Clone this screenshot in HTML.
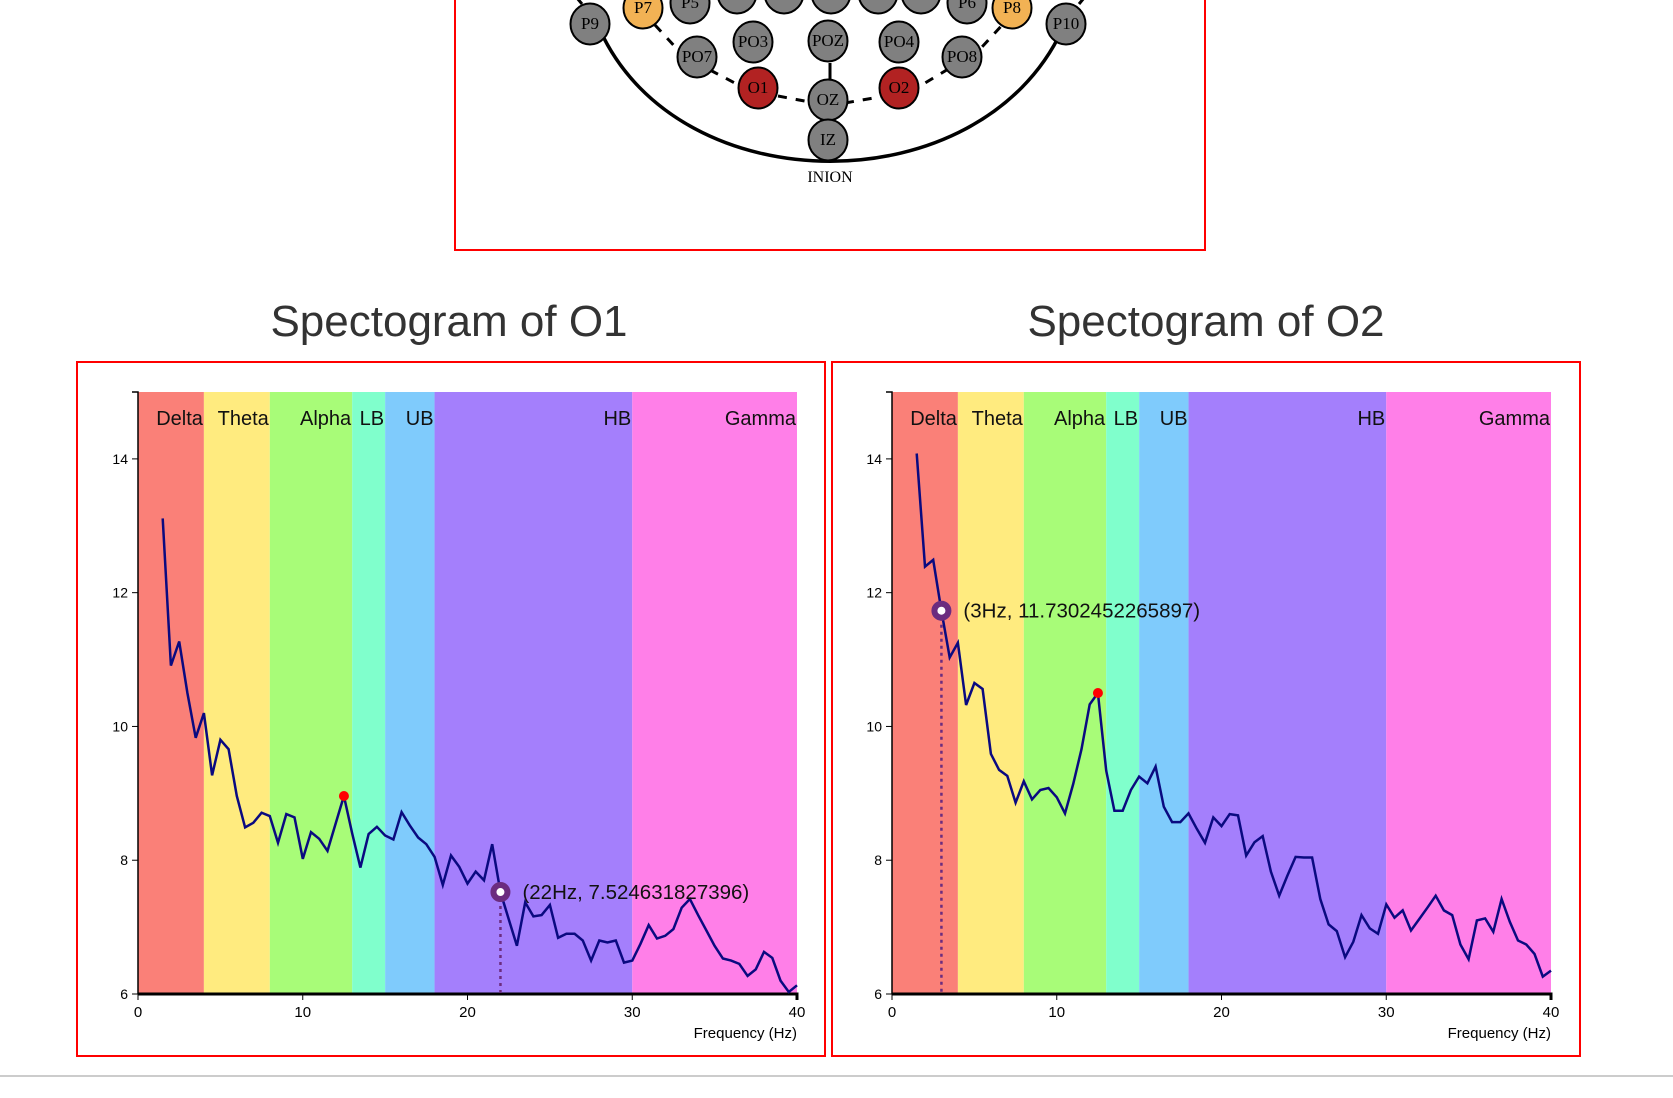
<!DOCTYPE html>
<html><head><meta charset="utf-8"><style>
html,body{margin:0;padding:0;background:#fff;width:1673px;height:1098px;overflow:hidden}
svg{display:block;font-family:"Liberation Sans",Arial,sans-serif}
</style></head><body>
<svg id="root" width="1673" height="1098" viewBox="0 0 1673 1098" xmlns="http://www.w3.org/2000/svg">
<g id="head">
<rect x="455" y="-10" width="750" height="260" fill="none" stroke="#f00" stroke-width="2"/>
<path d="M600 30 C680 205 980 205 1062 30" fill="none" stroke="#000" stroke-width="3.5"/>
<line x1="582" y1="4" x2="572" y2="-8" stroke="#000" stroke-width="3"/>
<line x1="1079" y1="4" x2="1089" y2="-8" stroke="#000" stroke-width="3"/>
<g stroke="#000" stroke-width="3" stroke-dasharray="9,9" fill="none">
<line x1="655" y1="25" x2="690" y2="63"/>
<line x1="710" y1="70" x2="752" y2="92"/>
<line x1="778" y1="96" x2="815" y2="103"/>
<line x1="845" y1="103" x2="885" y2="96"/>
<line x1="910" y1="92" x2="950" y2="68"/>
<line x1="970" y1="60" x2="1005" y2="22"/>
<line x1="830" y1="63" x2="830" y2="80" stroke-dasharray="none"/>
</g>
<g id="electrodes" stroke="#000" stroke-width="2" font-family="Liberation Serif,serif" font-size="17" text-anchor="middle"></g>
<text x="830" y="182" font-family="Liberation Serif,serif" font-size="16" text-anchor="middle">INION</text>
</g>
<text x="449" y="336" font-size="44" fill="#333" text-anchor="middle">Spectogram of O1</text>
<text x="1206" y="336" font-size="44" fill="#333" text-anchor="middle">Spectogram of O2</text>
<rect x="77" y="362" width="748" height="694" fill="none" stroke="#f00" stroke-width="2"/>
<rect x="832" y="362" width="748" height="694" fill="none" stroke="#f00" stroke-width="2"/>
<rect x="0" y="1075" width="1673" height="2" fill="#ccc"/>
<g id="c1"></g>
<g id="c2"></g>
</svg>
<script>
const freqStart = 1.5, freqStep = 0.5;
const o1Values = [13.11,10.91,11.27,10.5,9.83,10.2,9.27,9.8,9.66,8.96,8.49,8.56,8.71,8.66,8.26,8.69,8.64,8.02,8.42,8.32,8.14,8.55,8.96,8.4,7.89,8.39,8.5,8.37,8.31,8.72,8.52,8.34,8.24,8.05,7.63,8.07,7.9,7.65,7.83,7.7,8.24,7.52,7.12,6.72,7.37,7.16,7.18,7.33,6.84,6.9,6.9,6.8,6.5,6.8,6.77,6.8,6.47,6.5,6.75,7.03,6.83,6.87,6.97,7.29,7.42,7.18,6.95,6.72,6.53,6.5,6.45,6.27,6.37,6.63,6.54,6.2,6.03,6.13];
const o2Values = [14.08,12.39,12.49,11.73,11.03,11.25,10.32,10.65,10.56,9.59,9.35,9.26,8.86,9.18,8.91,9.05,9.08,8.94,8.7,9.14,9.66,10.33,10.5,9.34,8.74,8.74,9.05,9.25,9.15,9.4,8.8,8.57,8.57,8.7,8.47,8.26,8.64,8.51,8.69,8.67,8.07,8.27,8.36,7.83,7.47,7.77,8.05,8.04,8.04,7.42,7.04,6.94,6.55,6.78,7.18,6.98,6.9,7.34,7.14,7.25,6.95,7.12,7.29,7.47,7.25,7.18,6.74,6.52,7.1,7.13,6.93,7.42,7.08,6.8,6.74,6.6,6.26,6.35];
const bandNames = ["Delta","Theta","Alpha","LB","UB","HB","Gamma"];
const bandEdges = [0,4,8,13,15,18,30,40];
const bandColors = ["#fa8078","#ffeb7f","#a8fc78","#80ffcc","#7fcbfc","#a47ffc","#ff7fe8"];
const xTicks = [0,10,20,30,40];
const yTicks = [6,8,10,12,14];
const o1Hover = [22, 7.524631827396];
const o2Hover = [3, 11.7302452265897];
const o1Peak = [12.5, 8.96];
const o2Peak = [12.5, 10.5];

const electrodeNames = ["P9","P7","P5","","","","","","P6","P8","P10","PO7","PO3","POZ","PO4","PO8","O1","OZ","O2","IZ"];
const electrodeColors = ["#808080","#f2b254","#808080","#808080","#808080","#808080","#808080","#808080","#808080","#f2b254","#808080","#808080","#808080","#808080","#808080","#808080","#b22222","#808080","#b22222","#808080"];
const electrodeX = [590,643,690,737,784,831,878,921,967,1012,1066,697,753,828,899,962,758,828,899,828];
const electrodeY = [24,8,3,-7,-7,-7,-7,-7,3,8,24,57,42,41,42,57,88,100,88,140];

const NS = "http://www.w3.org/2000/svg";
function mk(tag, attrs, parent){const e=document.createElementNS(NS,tag);for(const k in attrs)e.setAttribute(k,attrs[k]);parent.appendChild(e);return e;}

const eg = document.getElementById('electrodes');
electrodeNames.forEach((n,i)=>{
  const g = mk('g',{},eg);
  
  
  mk('ellipse',{cx:electrodeX[i],cy:electrodeY[i],rx:19.5,ry:20.5,fill:electrodeColors[i]},g);
  if(n){const t=mk('text',{x:electrodeX[i],y:electrodeY[i]+5,stroke:'none',fill:'#000'},g);t.textContent=n;}
});

function drawChart(gid, x0, values, hover, peak){
  const g = document.getElementById(gid);
  const px0 = x0, px1 = x0+659, py0 = 994, py1 = 392;
  const X = f => px0 + (f-0)/(40-0)*(px1-px0);
  const Y = v => py0 - (v-6)/(15-6)*(py0-py1);
  bandNames.forEach((b,i)=>{
    const r = mk('rect',{x:X(bandEdges[i]),y:py1,width:X(bandEdges[i+1])-X(bandEdges[i]),height:py0-py1,fill:bandColors[i]},g);
    
    
    const t = mk('text',{x:X(bandEdges[i+1])-1,y:py1+33,'font-size':20,'text-anchor':'end',fill:'#111'},g);
    
    
    t.textContent = b;
  });
  const ax = mk('g',{},g);
  
  
  mk('path',{d:`M${px0-6} ${py1}H${px0}V${py0}`,stroke:'#000','stroke-width':1.5,fill:'none'},ax);
  yTicks.forEach(v=>{
    mk('line',{x1:px0-6,x2:px0,y1:Y(v),y2:Y(v),stroke:'#000'},ax);
    const t=mk('text',{x:px0-10,y:Y(v)+5,'font-size':14,'text-anchor':'end'},ax);
    
    
    t.textContent=v;
  });
  const xa = mk('g',{},g);
  
  
  mk('path',{d:`M${px0} ${py0}H${px1}V${py0+6}`,stroke:'#000','stroke-width':3,fill:'none'},xa);
  xTicks.forEach(v=>{
    mk('line',{x1:X(v),x2:X(v),y1:py0,y2:py0+6,stroke:'#000'},xa);
    const t=mk('text',{x:X(v),y:py0+23,'font-size':15,'text-anchor':'middle'},xa);
    
    
    t.textContent=v;
  });
  const xt = mk('text',{x:px1,y:py0+44,'font-size':15,'text-anchor':'end'},xa);
  
  
  xt.textContent = 'Frequency (Hz)';
  const d = values.map((v,i)=>(i?'L':'M')+X(freqStart+i*freqStep).toFixed(1)+' '+Y(v).toFixed(1)).join('');
  const line = mk('path',{d:d,fill:'none',stroke:'#0a0a80','stroke-width':2.5,'stroke-linejoin':'miter'},g);
  
  
  const pk = mk('circle',{cx:X(peak[0]),cy:Y(peak[1]),r:5,fill:'#f00'},g);
  
  
  const hl = mk('line',{x1:X(hover[0]),x2:X(hover[0]),y1:Y(hover[1]),y2:py0,stroke:'#6b2c7f','stroke-width':2.5,'stroke-dasharray':'3,4'},g);
  
  
  const hc = mk('circle',{cx:X(hover[0]),cy:Y(hover[1]),r:7,fill:'#fff',stroke:'#6b2c7f','stroke-width':6},g);
  
  
  const ht = mk('text',{x:X(hover[0])+22,y:Y(hover[1])+7,'font-size':20.5,fill:'#111'},g);
  
  
  ht.textContent = '('+hover[0]+'Hz, '+hover[1]+')';
}
drawChart('c1', 138, o1Values, o1Hover, o1Peak);
drawChart('c2', 892, o2Values, o2Hover, o2Peak);
</script>
</body></html>
